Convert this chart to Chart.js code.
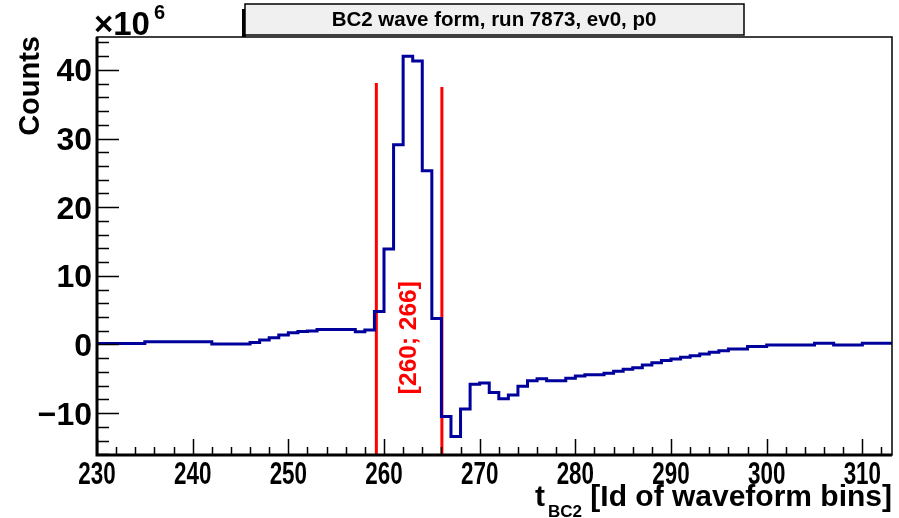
<!DOCTYPE html>
<html>
<head>
<meta charset="utf-8">
<script src="https://cdn.jsdelivr.net/npm/chart.js@4/dist/chart.umd.min.js"></script>
<style>
html,body{margin:0;padding:0;background:#fff;}
canvas{display:block;}
</style>
</head>
<body>
<canvas id="c" width="899" height="518"></canvas>
<script>
// ---- data (counts in units of 1e6) ----
const firstBin = 230;            // lower edge of first bin, bin width 1
const counts = [
  0.15, 0.15, 0.15, 0.15, 0.15,             // 230-234
  0.4, 0.4, 0.4, 0.4, 0.4, 0.4, 0.4,        // 235-241
  0.07, 0.07, 0.07, 0.07,                   // 242-245
  0.3, 0.65, 1.0, 1.38, 1.72, 1.9, 1.95,    // 246-252
  2.2, 2.2, 2.2, 2.2, 1.86, 2.1,            // 253-258
  4.8, 13.9, 29.1, 42.0, 41.3, 25.3, 3.8,   // 259-265
  -10.5, -13.4, -9.4, -5.8, -5.6, -7.0, -7.9, -7.35, -6.1, -5.3, // 266-275
  -5.0, -5.3, -5.3, -4.9, -4.6, -4.4, -4.4, -4.2, -3.9, -3.6,    // 276-285
  -3.4, -3.0, -2.65, -2.35, -2.1, -1.87, -1.63, -1.38, -1.14, -0.9, // 286-295
  -0.65, -0.65, -0.3, -0.3, -0.07, -0.07, -0.07, -0.07, -0.07,   // 296-304
  0.17, 0.17, -0.07, -0.07, -0.07, 0.17, 0.17, 0.17, 0.17        // 305-313
];
const cutX = [259.2, 266.05];
const cutTop = [38.1, 37.5];
const cutLabel = "[260; 266]";
const xTicks = [230, 240, 250, 260, 270, 280, 290, 300, 310];
const yTicks = [-10, 0, 10, 20, 30, 40];
const xRange = [230, 313.1];
const yRange = [-16.1, 44.8];
const titleText = "BC2 wave form, run 7873, ev0, p0";

// ---- datasets built from the arrays ----
const histPts = counts.map((v, i) => ({x: firstBin + i, y: v}));
histPts.push({x: firstBin + counts.length, y: counts[counts.length - 1]});

const datasets = [{
  data: histPts, stepped: 'before', borderColor: '#00009c', borderWidth: 3,
  pointRadius: 0, fill: false, tension: 0
}];
cutX.forEach((x, i) => {
  datasets.push({
    data: [{x: x, y: yRange[0]}, {x: x, y: cutTop[i]}],
    borderColor: '#ff0000', borderWidth: 3, pointRadius: 0, fill: false
  });
});

const FONT = "'Liberation Sans', Arial, Helvetica, sans-serif";
const fmt = v => (v < 0 ? "\u2212" + Math.abs(v) : String(v));

const deco = {
  id: 'deco',
  beforeDraw(chart) {
    const ctx = chart.ctx;
    ctx.save();
    ctx.fillStyle = '#fff';
    ctx.fillRect(0, 0, chart.width, chart.height);
    ctx.restore();
  },
  afterDatasetsDraw(chart) {
    const ctx = chart.ctx, a = chart.chartArea;
    const xs = chart.scales.x, ys = chart.scales.y;
    ctx.save();
    // red label
    ctx.fillStyle = '#ff0000';
    ctx.font = "bold 24.5px " + FONT;
    ctx.translate(xs.getPixelForValue(262.65), ys.getPixelForValue(1.0));
    ctx.rotate(-Math.PI / 2);
    ctx.textAlign = 'center';
    ctx.textBaseline = 'middle';
    ctx.fillText(cutLabel, 0, 0);
    ctx.restore();

    ctx.save();
    // frame
    ctx.strokeStyle = '#000';
    ctx.lineWidth = 1.5;
    ctx.strokeRect(a.left, a.top, a.right - a.left, a.bottom - a.top);
    ctx.lineWidth = 3;
    ctx.beginPath();
    ctx.moveTo(a.left, a.top); ctx.lineTo(a.left, a.bottom); ctx.lineTo(a.right, a.bottom);
    ctx.stroke();
    // ticks
    ctx.lineWidth = 1.5;
    ctx.beginPath();
    for (let v = 230; v <= xRange[1]; v += 2) {
      const px = Math.round(xs.getPixelForValue(v)) + 0.5;
      const len = (v % 10 === 0) ? 16 : 8;
      ctx.moveTo(px, a.bottom); ctx.lineTo(px, a.bottom - len);
    }
    for (let v = -16; v <= yRange[1]; v += 2) {
      const py = Math.round(ys.getPixelForValue(v)) + 0.5;
      const len = (v % 10 === 0) ? 22 : 12;
      ctx.moveTo(a.left, py); ctx.lineTo(a.left + len, py);
    }
    ctx.stroke();

    // tick labels
    ctx.fillStyle = '#000';
    ctx.textBaseline = 'alphabetic';
    ctx.font = "bold 32px " + FONT;
    ctx.textAlign = 'center';
    xTicks.forEach(v => {
      ctx.save();
      ctx.translate(xs.getPixelForValue(v), 484);
      ctx.scale(0.7, 1);
      ctx.fillText(fmt(v), 0, 0);
      ctx.restore();
    });
    ctx.textAlign = 'right';
    yTicks.forEach(v => {
      ctx.fillText(fmt(v), 92, ys.getPixelForValue(v) + 11.5);
    });
    ctx.restore();

    ctx.save();
    // title box
    ctx.fillStyle = '#000';
    ctx.fillRect(242, 9, 4, 28);
    ctx.fillStyle = '#f0f0f0';
    ctx.fillRect(245, 4, 499, 31);
    ctx.strokeStyle = '#000';
    ctx.lineWidth = 1.5;
    ctx.strokeRect(245, 4, 499, 31);
    ctx.fillStyle = '#000';
    ctx.font = "bold 20.5px " + FONT;
    ctx.textAlign = 'center';
    ctx.textBaseline = 'middle';
    ctx.fillText(titleText, 494, 20);

    // x10^6
    ctx.textAlign = 'left';
    ctx.textBaseline = 'alphabetic';
    ctx.font = "bold 33px " + FONT;
    ctx.fillText("\u00d710", 94, 35);
    ctx.font = "bold 20px " + FONT;
    ctx.fillText("6", 154, 19);

    // y title
    ctx.save();
    ctx.font = "bold 29px " + FONT;
    ctx.translate(31, 36);
    ctx.rotate(-Math.PI / 2);
    ctx.textAlign = 'right';
    ctx.textBaseline = 'middle';
    ctx.fillText("Counts", 0, 0);
    ctx.restore();

    // x title
    ctx.font = "bold 30px " + FONT;
    ctx.textAlign = 'right';
    ctx.textBaseline = 'alphabetic';
    const main = " [Id of waveform bins]";
    const wMain = ctx.measureText(main).width;
    ctx.fillText(main, 892, 506);
    ctx.font = "bold 17px " + FONT;
    const wSub = ctx.measureText("BC2").width + 3;
    ctx.fillText("BC2", 892 - wMain, 517);
    ctx.font = "bold 30px " + FONT;
    ctx.fillText("t", 892 - wMain - wSub, 506);
    ctx.restore();
  }
};

new Chart(document.getElementById('c'), {
  type: 'line',
  data: {datasets: datasets},
  options: {
    responsive: false,
    devicePixelRatio: 1,
    animation: false,
    layout: {padding: {top: 37, right: 7, left: 0, bottom: 0}},
    plugins: {legend: {display: false}, tooltip: {enabled: false}, title: {display: false}},
    scales: {
      x: {
        type: 'linear', min: xRange[0], max: xRange[1],
        afterBuildTicks: s => { s.ticks = xTicks.map(v => ({value: v})); },
        afterFit: s => { s.height = 63; },
        grid: {display: false}, border: {display: false},
        ticks: {display: false}
      },
      y: {
        type: 'linear', min: yRange[0], max: yRange[1],
        afterBuildTicks: s => { s.ticks = yTicks.map(v => ({value: v})); },
        afterFit: s => { s.width = 97; },
        grid: {display: false}, border: {display: false},
        ticks: {display: false}
      }
    }
  },
  plugins: [deco]
});
</script>
</body>
</html>
